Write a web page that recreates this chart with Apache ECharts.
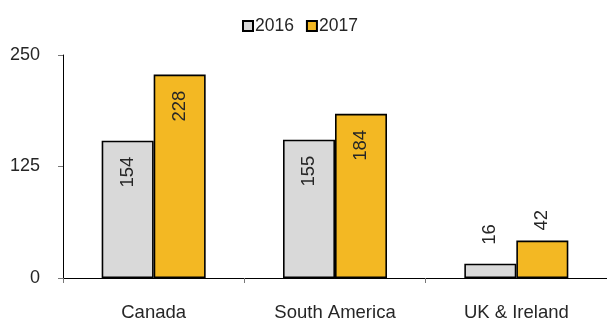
<!DOCTYPE html>
<html>
<head>
<meta charset="utf-8">
<script src="https://cdn.jsdelivr.net/npm/echarts@6/dist/echarts.min.js"></script>
<style>
  html, body { margin: 0; padding: 0; background: #fff; }
  #chart { width: 607px; height: 322px; }
</style>
</head>
<body>
<div id="chart"></div>
<script>
const categories = ['Canada', 'South America', 'UK & Ireland'];
const seriesNames = ['2016', '2017'];
const values2016 = [154, 155, 16];
const values2017 = [228, 184, 42];
const yTicks = [0, 125, 250];

const colors = ['#d9d9d9', '#f3b823'];
const textColor = '#262626';
const font = 'Liberation Sans, Arial, sans-serif';

// big bars get their label inside near the top, small ones sit above
const labelFor = (v) => v > 60
  ? { position: 'insideTop', distance: 16, align: 'right', verticalAlign: 'middle' }
  : { position: 'top', distance: v < 25 ? 19 : 10, align: 'left', verticalAlign: 'middle' };

const makeSeries = (name, vals, color) => ({
  name,
  type: 'bar',
  barWidth: 52,
  barGap: '0%',
  itemStyle: { color, borderColor: '#000', borderWidth: 1.6 },
  label: {
    show: true,
    rotate: 90,
    fontSize: 18.5,
    fontFamily: font,
    color: textColor
  },
  data: vals.map(v => ({ value: v, label: labelFor(v) }))
});

const chart = echarts.init(document.getElementById('chart'));
chart.setOption({
  animation: false,
  legend: {
    data: seriesNames,
    top: 12,
    left: 237,
    itemWidth: 10,
    itemHeight: 10,
    itemGap: 12,
    icon: 'rect',
    textStyle: { fontSize: 17.5, fontFamily: font, color: textColor, padding: [0, 0, 0, -3] }
  },
  grid: { left: 63, right: 0, top: 55, bottom: 42, containLabel: false },
  xAxis: {
    type: 'category',
    data: categories,
    axisLine: { lineStyle: { color: '#000', width: 1 } },
    axisTick: { show: true, length: 5, lineStyle: { color: '#777' } },
    axisLabel: { fontSize: 18.5, fontFamily: font, color: textColor, margin: 25 }
  },
  yAxis: {
    type: 'value',
    min: yTicks[0],
    max: yTicks[yTicks.length - 1],
    interval: yTicks[1] - yTicks[0],
    splitLine: { show: false },
    axisLine: { show: true, lineStyle: { color: '#000', width: 1 } },
    axisTick: { show: true, length: 5, lineStyle: { color: '#777' } },
    axisLabel: { fontSize: 18, fontFamily: font, color: textColor, margin: 23 }
  },
  series: [
    makeSeries(seriesNames[0], values2016, colors[0]),
    makeSeries(seriesNames[1], values2017, colors[1])
  ]
});
</script>
</body>
</html>
